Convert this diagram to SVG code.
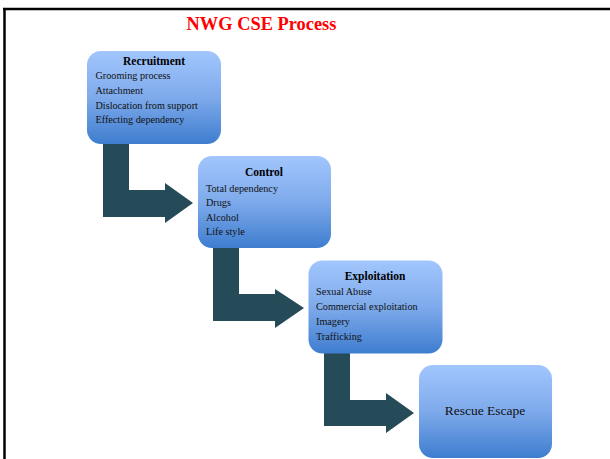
<svg xmlns="http://www.w3.org/2000/svg" width="610" height="459" viewBox="0 0 610 459">
  <defs>
    <linearGradient id="boxGrad" x1="0" y1="0" x2="0" y2="1">
      <stop offset="0" stop-color="#a2c6fd"/>
      <stop offset="0.5" stop-color="#7eaaeb"/>
      <stop offset="1" stop-color="#3e7dcf"/>
    </linearGradient>
  </defs>
  <style>
    .box { fill: url(#boxGrad); }
    .arrow { fill: #254a58; }
    .title { font-family: "Liberation Serif", "Times New Roman", serif; font-weight: bold; font-size: 11.5px; fill: #000; text-anchor: middle; }
    .item { font-family: "Liberation Serif", "Times New Roman", serif; font-size: 10.2px; fill: #111; }
    .big { font-family: "Liberation Serif", "Times New Roman", serif; font-size: 13.5px; fill: #111; text-anchor: middle; }
    .heading { font-family: "Liberation Serif", "Times New Roman", serif; font-weight: bold; font-size: 18.4px; fill: #ff0000; text-anchor: middle; }
  </style>
  <rect x="0" y="0" width="610" height="459" fill="#ffffff"/>
  <g id="frame">
    <line x1="3" y1="9" x2="610" y2="9" stroke="#000" stroke-width="2.5"/>
    <line x1="4.5" y1="8" x2="4.5" y2="459" stroke="#000" stroke-width="2.5"/>
  </g>
  <text id="heading" class="heading" x="261.5" y="30">NWG CSE Process</text>
  <g id="connectors">
    <path class="arrow" d="M103,140 L129,140 L129,190 L165,190 L165,183 L193,203 L165,223 L165,217 L103,217 Z"/>
    <path class="arrow" d="M213,245 L239,245 L239,294 L275,294 L275,289 L304,308 L275,328 L275,321 L213,321 Z"/>
    <path class="arrow" d="M324,350 L350,350 L350,400 L386,400 L386,393 L414,413 L386,433 L386,426 L324,426 Z"/>
  </g>
  <g id="recruitment">
    <rect class="box" x="87" y="51" width="134" height="93" rx="14"/>
    <text class="title" x="154" y="64.5">Recruitment</text>
    <text class="item" x="95.5" y="79">Grooming process</text>
    <text class="item" x="95.5" y="94">Attachment</text>
    <text class="item" x="95.5" y="109">Dislocation from support</text>
    <text class="item" x="95.5" y="123">Effecting dependency</text>
  </g>
  <g id="control">
    <rect class="box" x="198" y="156" width="133" height="92" rx="14"/>
    <text class="title" x="264" y="176">Control</text>
    <text class="item" x="206" y="192">Total dependency</text>
    <text class="item" x="206" y="206">Drugs</text>
    <text class="item" x="206" y="221">Alcohol</text>
    <text class="item" x="206" y="235">Life style</text>
  </g>
  <g id="exploitation">
    <rect class="box" x="308.5" y="260.5" width="134" height="93" rx="14"/>
    <text class="title" x="375" y="280">Exploitation</text>
    <text class="item" x="316" y="295">Sexual Abuse</text>
    <text class="item" x="316" y="310">Commercial exploitation</text>
    <text class="item" x="316" y="325">Imagery</text>
    <text class="item" x="316" y="340">Trafficking</text>
  </g>
  <g id="rescue">
    <rect class="box" x="419" y="365" width="133" height="93" rx="14"/>
    <text class="big" x="485" y="415">Rescue Escape</text>
  </g>
</svg>
